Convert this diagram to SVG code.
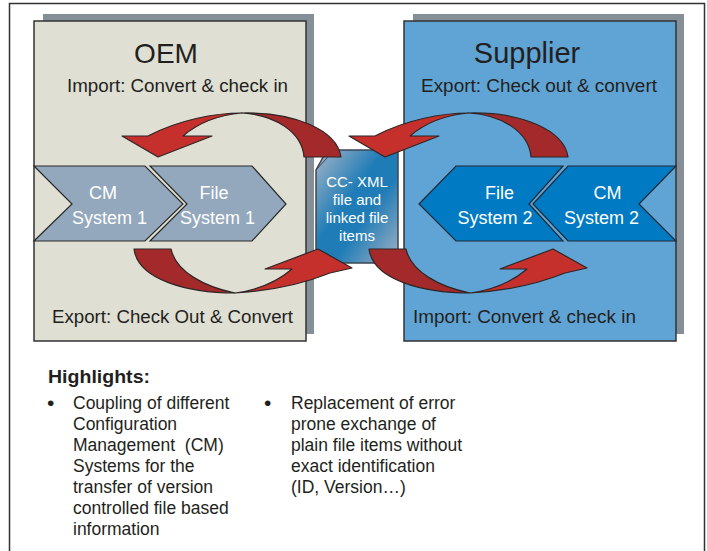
<svg xmlns="http://www.w3.org/2000/svg" width="707" height="551" viewBox="0 0 707 551">
<defs>
<style>
.t{font-family:"Liberation Sans",Arial,Helvetica,sans-serif;fill:#231f20}
.w{font-family:"Liberation Sans",Arial,Helvetica,sans-serif;fill:#ffffff}
.shadow{fill:#858f98}
.box{stroke:#333333;stroke-width:1.5}
.chevO{fill:#93a8bd;stroke:#2a2a2a;stroke-width:1.2;stroke-linejoin:miter}
.chevS{fill:#007ac2;stroke:#1e2a36;stroke-width:1.2;stroke-linejoin:miter}
.arL{fill:#c6302c;stroke:#2e2626;stroke-width:1.2;stroke-linejoin:round}
.arD{fill:#a3292a;stroke:#2e2626;stroke-width:1.2;stroke-linejoin:round}
.pre{white-space:pre}
</style>
<linearGradient id="xmlg" x1="0" y1="0" x2="1" y2="1">
<stop offset="0" stop-color="#a7b6c6"/>
<stop offset="0.42" stop-color="#1f7cb7"/>
<stop offset="0.6" stop-color="#1f7cb7"/>
<stop offset="1" stop-color="#a3b3c3"/>
</linearGradient>
<g id="arrowTop">
<path class="arL" d="M242,113 C215,113 178,120 148,136 L122,136 L158,157 L212,136 L183,136 C197,124 218,115 242,113 Z"/>
<path class="arD" d="M242,113 C295,112 337,130 341,157 L304,157 C302,132 275,115 242,113 Z"/>
</g>
<g id="arrowBottom">
<path class="arD" d="M235,293 C188,293 138,280 134,249 L171,249 C176,272 205,287 235,293 Z"/>
<path class="arL" d="M235,293 C270,291 305,283 330,273 L352,268 L318,249 L265,269 L292,269 C278,281 258,290 235,293 Z"/>
</g>
</defs>
<rect x="0" y="0" width="707" height="551" fill="#ffffff"/>
<path d="M9.5,551 V3.5 H704.5 V551" fill="none" stroke="#333333" stroke-width="1.5"/>

<g id="oem">
<rect class="shadow" x="43" y="14" width="271" height="320"/>
<rect class="box" x="34" y="21" width="272" height="320" fill="#dfdfd4"/>
<text class="t" x="166" y="63" font-size="28" text-anchor="middle">OEM</text>
<text class="t" x="67" y="92" font-size="17.5" textLength="221" lengthAdjust="spacingAndGlyphs">Import: Convert &amp; check in</text>
<text class="t" x="52" y="323" font-size="17.5" textLength="241" lengthAdjust="spacingAndGlyphs">Export: Check Out &amp; Convert</text>
</g>

<g id="supplier">
<rect class="shadow" x="413" y="14" width="271" height="320"/>
<rect class="box" x="404" y="21" width="272" height="320" fill="#5fa4d4"/>
<text class="t" x="527" y="63" font-size="29" text-anchor="middle">Supplier</text>
<text class="t" x="421" y="92" font-size="17.5" textLength="236" lengthAdjust="spacingAndGlyphs">Export: Check out &amp; convert</text>
<text class="t" x="413" y="323" font-size="17.5" textLength="223" lengthAdjust="spacingAndGlyphs">Import: Convert &amp; check in</text>
</g>

<g id="cm-system-1">
<polygon class="chevO" points="34,166 145,166 183,204 145,241 34,241 72,204"/>
<text class="w" x="103" y="199" font-size="18" text-anchor="middle">CM</text>
<text class="w" x="109.5" y="224" font-size="18" text-anchor="middle">System 1</text>
</g>
<g id="file-system-1">
<polygon class="chevO" points="150,166 252,166 286,204 252,241 150,241 187,204"/>
<text class="w" x="214" y="199" font-size="18" text-anchor="middle">File</text>
<text class="w" x="217.5" y="224" font-size="18" text-anchor="middle">System 1</text>
</g>
<g id="file-system-2">
<polygon class="chevS" points="419,204 456,166 563,166 529,204 563,241 456,241"/>
<text class="w" x="499.5" y="199" font-size="18" text-anchor="middle">File</text>
<text class="w" x="495" y="224" font-size="18" text-anchor="middle">System 2</text>
</g>
<g id="cm-system-2">
<polygon class="chevS" points="533,204 568,166 676,166 639,204 676,241 568,241"/>
<text class="w" x="607.5" y="199" font-size="18" text-anchor="middle">CM</text>
<text class="w" x="601.5" y="224" font-size="18" text-anchor="middle">System 2</text>
</g>

<g id="cc-xml">
<polygon points="316,170 327,150 398,150 398,263 316,263" fill="url(#xmlg)" stroke="#3c4651" stroke-width="1.5"/>
<polyline points="316,170 327,158 327,150" fill="none" stroke="#3c4651" stroke-width="1"/>
<text class="w" x="357" y="187" font-size="15" text-anchor="middle">CC- XML</text>
<text class="w" x="357" y="205" font-size="15" text-anchor="middle">file and</text>
<text class="w" x="357" y="223" font-size="15" text-anchor="middle">linked file</text>
<text class="w" x="357" y="241" font-size="15" text-anchor="middle">items</text>
</g>

<g id="connectors">
<use href="#arrowTop"/>
<use href="#arrowTop" transform="translate(227,0)"/>
<use href="#arrowBottom"/>
<use href="#arrowBottom" transform="translate(235,0)"/>
</g>

<g id="highlights">
<text class="t" x="48" y="383" font-size="18" font-weight="bold" textLength="102" lengthAdjust="spacingAndGlyphs">Highlights:</text>
<text class="t" x="47" y="410" font-size="21">•</text>
<text class="t pre" font-size="17.5">
<tspan x="73" y="409">Coupling of different</tspan>
<tspan x="73" y="430">Configuration</tspan>
<tspan x="73" y="451">Management  (CM)</tspan>
<tspan x="73" y="472">Systems for the</tspan>
<tspan x="73" y="493">transfer of version</tspan>
<tspan x="73" y="514">controlled file based</tspan>
<tspan x="73" y="535">information</tspan>
</text>
<text class="t" x="264" y="410" font-size="21">•</text>
<text class="t" font-size="17.5">
<tspan x="291" y="409">Replacement of error</tspan>
<tspan x="291" y="430">prone exchange of</tspan>
<tspan x="291" y="451">plain file items without</tspan>
<tspan x="291" y="472">exact identification</tspan>
<tspan x="291" y="493">(ID, Version…)</tspan>
</text>
</g>
</svg>
